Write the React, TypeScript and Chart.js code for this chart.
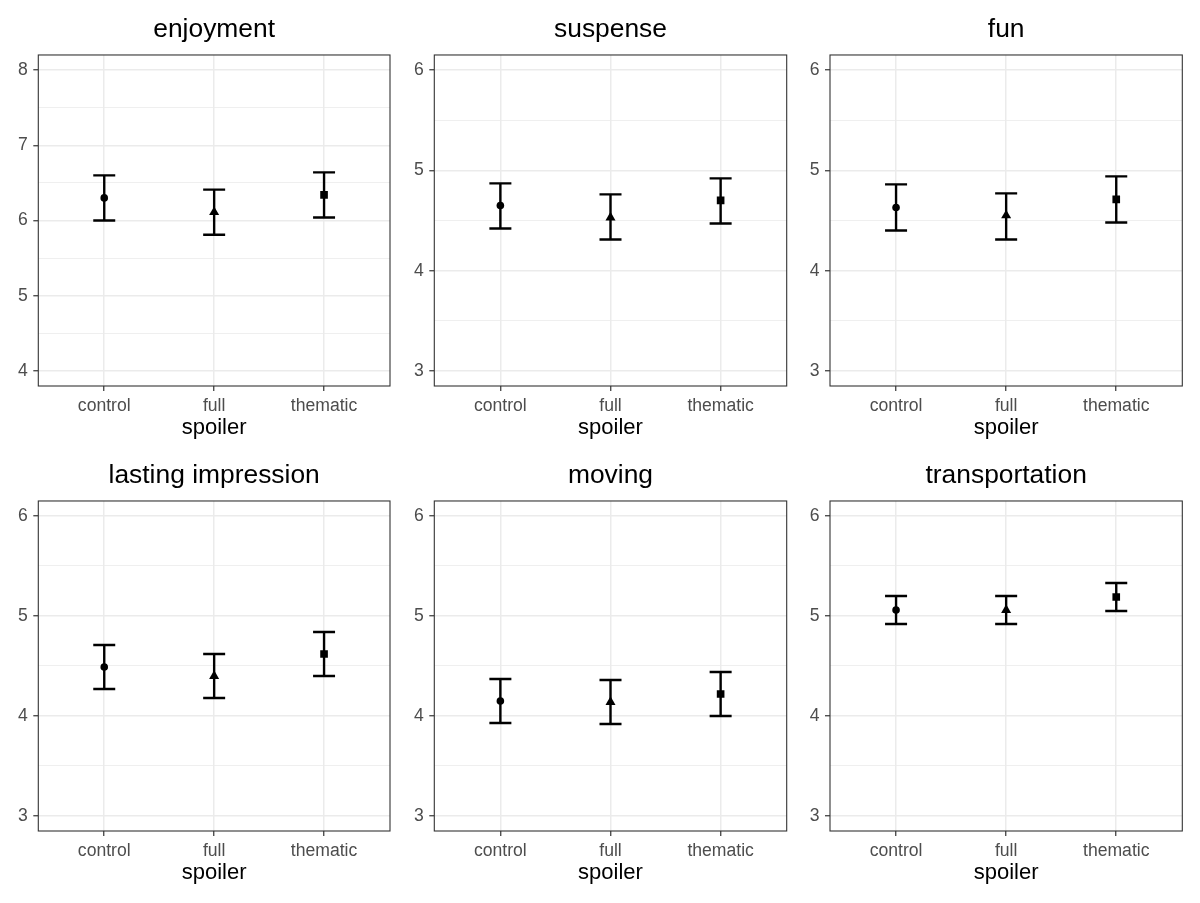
import { useEffect, useRef } from 'react';
import Chart from 'chart.js/auto';

const panelTitles = ['enjoyment', 'suspense', 'fun', 'lasting impression', 'moving', 'transportation'];
const spoilerLevels = ['control', 'full', 'thematic'];
const levelShapes = ['circle', 'triangle', 'rect'];

// mean and 95% interval per panel, in spoiler order
const meanValues = [
  [6.30, 6.11, 6.34],
  [4.65, 4.53, 4.70],
  [4.63, 4.55, 4.71],
  [4.49, 4.40, 4.62],
  [4.15, 4.14, 4.22],
  [5.06, 5.06, 5.19],
];
const lowerValues = [
  [6.00, 5.81, 6.04],
  [4.42, 4.31, 4.47],
  [4.40, 4.31, 4.48],
  [4.27, 4.18, 4.40],
  [3.93, 3.92, 4.00],
  [4.92, 4.92, 5.05],
];
const upperValues = [
  [6.60, 6.41, 6.64],
  [4.87, 4.76, 4.92],
  [4.86, 4.77, 4.94],
  [4.71, 4.62, 4.84],
  [4.37, 4.36, 4.44],
  [5.20, 5.20, 5.33],
];
const yLimits = [[4, 8], [3, 6], [3, 6], [3, 6], [3, 6], [3, 6]];
const yBreaks = [
  [4, 5, 6, 7, 8],
  [3, 4, 5, 6],
  [3, 4, 5, 6],
  [3, 4, 5, 6],
  [3, 4, 5, 6],
  [3, 4, 5, 6],
];

const FONT = '"Liberation Sans", Arial, Helvetica, sans-serif';
const Y_AXIS_W = 30;
const X_AXIS_H = 60;
const TITLE_BAND = 55;
const ERRBAR_W = 0.2;

// panel (plot area) edges on the page
const plotLefts = [38.3, 434.3, 830];
const plotRights = [390, 786.7, 1182.3];
const plotTops = [55, 500.7];
const plotBottoms = [386, 830.7];

const shapeRadius: Record<string, number> = { circle: 3.8, triangle: 5.8, rect: 5.4 };

const panelBorder = {
  id: 'panelBorder',
  afterDraw(chart: any) {
    const { ctx, chartArea: a } = chart;
    ctx.save();
    ctx.strokeStyle = '#333333';
    ctx.lineWidth = 1.1;
    ctx.strokeRect(a.left, a.top, a.right - a.left, a.bottom - a.top);
    ctx.restore();
  },
};

const Panel = ({ index }: { index: number }) => {
  const canvasRef = useRef<HTMLCanvasElement>(null);
  const row = Math.floor(index / 3);
  const col = index % 3;
  const left = col * 400;
  const top = plotTops[row] - TITLE_BAND;
  const width = 400;
  const height = Math.round(plotBottoms[row] - top + X_AXIS_H);

  useEffect(() => {
    if (!canvasRef.current) return;

    const [lo, hi] = yLimits[index];
    const expand = (hi - lo) * 0.05;
    const majors = yBreaks[index];
    const minors = majors.slice(1).map((v, i) => (v + majors[i]) / 2);
    const yTicks = [...majors, ...minors].sort((a, b) => a - b);
    const isMajor = (v: number) => majors.includes(v);
    const positions = spoilerLevels.map((_, i) => i + 1);

    const errData: { x: number; y: number | null }[] = [];
    positions.forEach((x, i) => {
      const l = lowerValues[index][i];
      const u = upperValues[index][i];
      const h = ERRBAR_W / 2;
      errData.push(
        { x: x - h, y: u }, { x: x + h, y: u }, { x, y: null },
        { x, y: u }, { x, y: l }, { x, y: null },
        { x: x - h, y: l }, { x: x + h, y: l }, { x: x + h, y: null },
      );
    });

    const chart = new Chart(canvasRef.current, {
      type: 'scatter',
      data: {
        datasets: [
          {
            data: positions.map((x, i) => ({ x, y: meanValues[index][i] })),
            pointStyle: levelShapes as any,
            pointRadius: levelShapes.map((s) => shapeRadius[s]),
            pointHoverRadius: levelShapes.map((s) => shapeRadius[s]),
            backgroundColor: '#000000',
            borderColor: '#000000',
            borderWidth: 0,
          },
          {
            type: 'line',
            data: errData as any,
            showLine: true,
            spanGaps: false,
            borderColor: '#000000',
            borderWidth: 2.4,
            borderCapStyle: 'butt',
            pointRadius: 0,
            pointHoverRadius: 0,
            fill: false,
            tension: 0,
          } as any,
        ],
      },
      options: {
        responsive: false,
        animation: false,
        events: [],
        layout: {
          padding: {
            left: plotLefts[col] - left - Y_AXIS_W,
            right: left + width - plotRights[col],
            top: 0,
            bottom: height - (plotBottoms[row] - top) - X_AXIS_H,
          },
        },
        plugins: {
          legend: { display: false },
          tooltip: { enabled: false },
          title: {
            display: true,
            text: panelTitles[index],
            color: '#000000',
            font: { family: FONT, size: 26.4, weight: 'normal' },
            padding: { top: 13.5, bottom: 9.8 },
            fullSize: false,
          },
        },
        scales: {
          x: {
            type: 'linear',
            min: 0.4,
            max: 3.6,
            afterBuildTicks: (s: any) => {
              s.ticks = positions.map((v) => ({ value: v }));
            },
            afterFit: (s: any) => {
              s.height = X_AXIS_H;
            },
            ticks: {
              callback: (_v: any, i: number) => spoilerLevels[i],
              color: '#4d4d4d',
              font: { family: FONT, size: 17.6 },
              padding: 5,
              maxRotation: 0,
              autoSkip: false,
            },
            grid: {
              color: '#ebebeb',
              lineWidth: 1.5,
              tickColor: '#333333',
              tickLength: 5,
              tickWidth: 1.2,
            },
            border: { display: false },
            title: {
              display: true,
              text: 'spoiler',
              color: '#000000',
              font: { family: FONT, size: 22 },
              padding: { top: 0, bottom: 5 },
            },
          },
          y: {
            type: 'linear',
            min: lo - expand,
            max: hi + expand,
            afterBuildTicks: (s: any) => {
              s.ticks = yTicks.map((v) => ({ value: v }));
            },
            afterFit: (s: any) => {
              s.width = Y_AXIS_W;
            },
            ticks: {
              callback: (v: any) => (isMajor(Number(v)) ? String(v) : ''),
              color: '#4d4d4d',
              font: { family: FONT, size: 17.6 },
              padding: 5.5,
              autoSkip: false,
            },
            grid: {
              color: '#ebebeb',
              lineWidth: (c: any) => (isMajor(c.tick.value) ? 1.5 : 0.8),
              tickColor: (c: any) => (isMajor(c.tick.value) ? '#333333' : 'rgba(0,0,0,0)'),
              tickLength: 5,
              tickWidth: 1.2,
            },
            border: { display: false },
          },
        },
      },
      plugins: [panelBorder],
    });

    return () => {
      chart.destroy();
    };
  }, [index]);

  return (
    <div style={{ position: 'absolute', left, top, width, height }}>
      <canvas ref={canvasRef} width={width} height={height} style={{ width, height, display: 'block' }} />
    </div>
  );
};

export default function App() {
  return (
    <div style={{ position: 'absolute', left: 0, top: 0, width: 1200, height: 903, background: '#ffffff', overflow: 'hidden' }}>
      {panelTitles.map((_, i) => (
        <Panel key={i} index={i} />
      ))}
    </div>
  );
}
